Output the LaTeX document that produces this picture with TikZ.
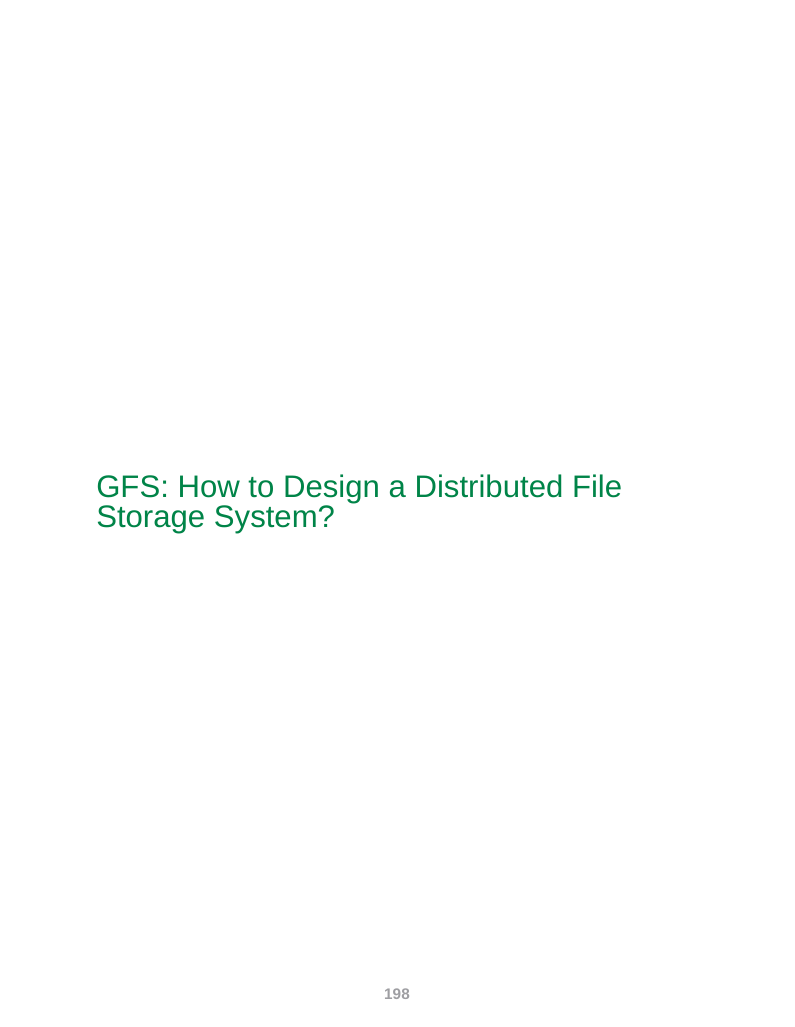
\documentclass[tikz,border=0pt]{standalone}
\usepackage{fontspec}
\setmainfont{Liberation Sans}
\definecolor{titlegreen}{RGB}{0,132,72}
\definecolor{pagegray}{RGB}{158,158,162}
\begin{document}
\begin{tikzpicture}[x=0.75pt,y=-0.75pt,
  titlestyle/.style={anchor=base west,inner sep=0pt,text=titlegreen,font=\fontsize{23.35pt}{26pt}\selectfont,align=left},
  pagestyle/.style={anchor=base,inner sep=0pt,text=pagegray,font=\fontsize{11.5pt}{13pt}\selectfont\bfseries}]
\useasboundingbox[fill=white] (0,0) rectangle (794,1027);
\node[titlestyle] (title1) at (96,497) {GFS: How to Design a Distributed File};
\node[titlestyle] (title2) at (96,527) {Storage System?};
\node[pagestyle] (page) at (397,999) {198};
\end{tikzpicture}
\end{document}
